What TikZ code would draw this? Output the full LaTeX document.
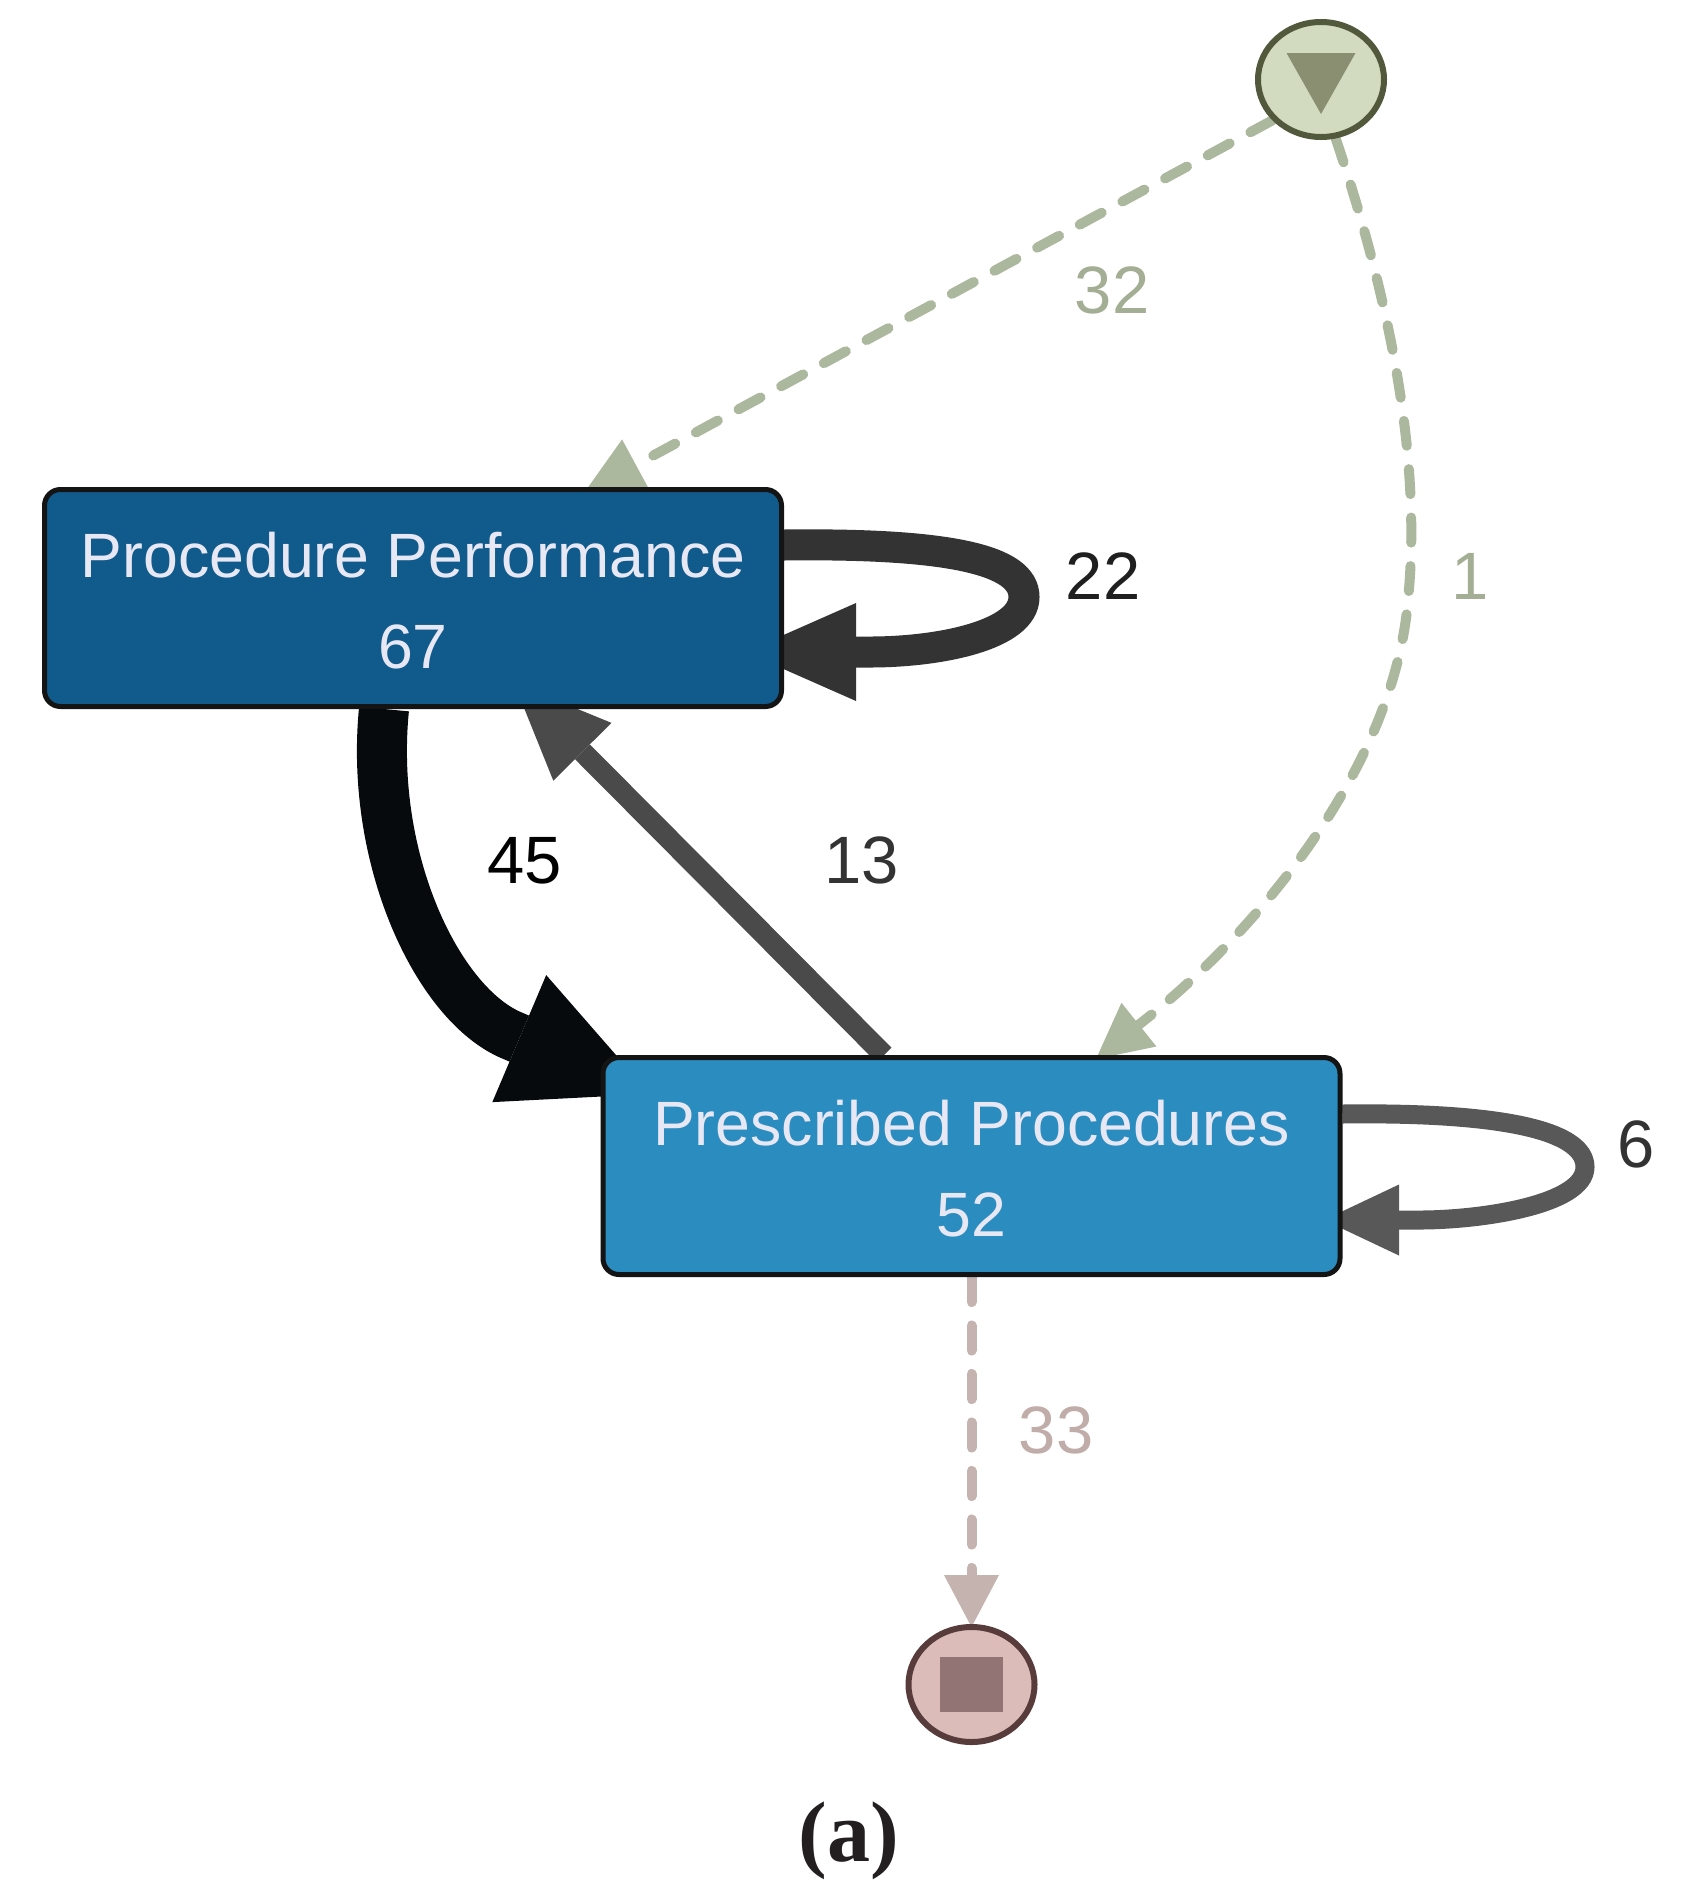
\documentclass[tikz,border=0pt]{standalone}
\usepackage{fontspec}
\setmainfont{Liberation Sans}
\newfontfamily\capfont{Liberation Serif}
\usetikzlibrary{arrows.meta,shapes.geometric,calc,backgrounds}
\definecolor{boxA}{RGB}{17,91,140}
\definecolor{boxB}{RGB}{43,140,191}
\definecolor{boxtext}{RGB}{232,232,244}
\definecolor{boxline}{RGB}{20,20,20}
\definecolor{startfill}{RGB}{210,218,192}
\definecolor{startline}{RGB}{82,88,60}
\definecolor{startmark}{RGB}{138,143,114}
\definecolor{endfill}{RGB}{219,188,185}
\definecolor{endline}{RGB}{88,60,60}
\definecolor{endmark}{RGB}{145,116,115}
\definecolor{greenedge}{RGB}{171,184,158}
\definecolor{greenlabel}{RGB}{163,174,148}
\definecolor{pinkedge}{RGB}{196,179,174}
\definecolor{pinklabel}{RGB}{192,172,168}
\definecolor{eA}{RGB}{6,10,12}
\definecolor{eB}{RGB}{51,51,51}
\definecolor{eC}{RGB}{74,74,74}
\definecolor{eD}{RGB}{88,88,88}
\definecolor{capcol}{RGB}{35,31,32}
\begin{document}
\begin{tikzpicture}[x=1pt,y=-1pt,
  activity/.style={draw=boxline,line width=5pt,rounded corners=16pt,minimum width=737pt,minimum height=217pt,inner sep=0pt,align=center,text=boxtext,font=\fontsize{62.6pt}{91pt}\selectfont},
  terminal/.style={ellipse,line width=6pt,minimum width=126pt,minimum height=115pt,inner sep=0pt},
  edgelabel/.style={anchor=base,font=\fontsize{67pt}{80pt}\selectfont},
  dashededge/.style={line width=10pt,line cap=round,dash pattern=on 25pt off 23.5pt},
]
\useasboundingbox (0,0) rectangle (1691,1899);

\node[activity,fill=boxA] (P1) at (413,598) {\rule{0pt}{51pt}Procedure Performance\\67};
\node[activity,fill=boxB] (P2) at (971.5,1166) {\rule{0pt}{51pt}Prescribed Procedures\\52};
\node[terminal,draw=startline,fill=startfill] (S) at (1321,79.5) {};
\node[terminal,draw=endline,fill=endfill] (E) at (971.5,1684.5) {};

\fill[startmark] ($(S.center)+(-34.5,-26.5)$) -- ($(S.center)+(34.5,-26.5)$) -- ($(S.center)+(0,34.5)$) -- cycle;
\fill[endmark] ($(E.center)+(-31.5,-27.5)$) rectangle ($(E.center)+(31.5,27.5)$);

\begin{scope}[on background layer]
\fill[white] (0,0) rectangle (1691,1899);
% start -> Procedure Performance
\draw[greenedge,dashededge,-{Triangle[length=59pt,width=58pt,line width=0pt]}]
  (S.220) -- ($(P1.north)+(171,6)$);
% start -> Prescribed Procedures
\draw[greenedge,dashededge,-{Triangle[length=55pt,width=56pt,line width=0pt]}]
  (S.-76) .. controls (1400,330) and (1420,480) .. (1408,600)
  .. controls (1395,760) and (1268,920) .. (1151,1015) -- ($(P2.north)+(124.5,4)$);
% self loop 22
\draw[eB,line width=31pt,-{Triangle[length=111pt,width=98pt,line width=0pt]}]
  ($(P1.east)+(0,-53)$) .. controls (950,543) and (1024,560) .. (1024,597)
  .. controls (1024,635) and (940,652) .. (870,652) -- ($(P1.east)+(-39,54)$);
% 45
\draw[eA,line width=50pt,-{Triangle[length=142pt,width=138pt,line width=0pt]}]
  ($(P1.south)+(-29,0)$) .. controls (369,860) and (438,1004.5) .. (512,1035.5) -- ($(P2.west)+(49.5,-72)$);
% 13
\draw[eC,line width=21pt,-{Triangle[length=97pt,width=82pt,line width=0pt]}]
  ($(P2.north)+(-87.5,0)$) -- ($(P1.south)+(101,-26)$);
% self loop 6
\draw[eD,line width=19pt,-{Triangle[length=75pt,width=71pt,line width=0pt]}]
  ($(P2.east)+(0,-52)$) .. controls (1500,1112) and (1585,1130) .. (1585,1167)
  .. controls (1585,1205) and (1480,1220) .. (1420,1220) -- ($(P2.east)+(-18.5,54)$);
% 33
\draw[pinkedge,dashededge,-{Triangle[length=52pt,width=55pt,line width=0pt]}]
  (P2.south) -- ($(E.north)+(0,3)$);
\end{scope}

\node[edgelabel,text=greenlabel] (l32) at (1112,313) {32};
\node[edgelabel,text=greenlabel] (l1) at (1470,599) {1};
\node[edgelabel,text=eB!60!black] (l22) at (1103,599) {22};
\node[edgelabel,text=black] (l45) at (525,883) {45};
\node[edgelabel,text=eB] (l13) at (862,883) {13};
\node[edgelabel,text=eB] (l6) at (1636,1167) {6};
\node[edgelabel,text=pinklabel] (l33) at (1056,1453) {33};
\node[anchor=base,text=capcol,font=\capfont\bfseries\fontsize{86pt}{100pt}\selectfont] (cap) at (849,1861) {(a)};
\end{tikzpicture}
\end{document}
